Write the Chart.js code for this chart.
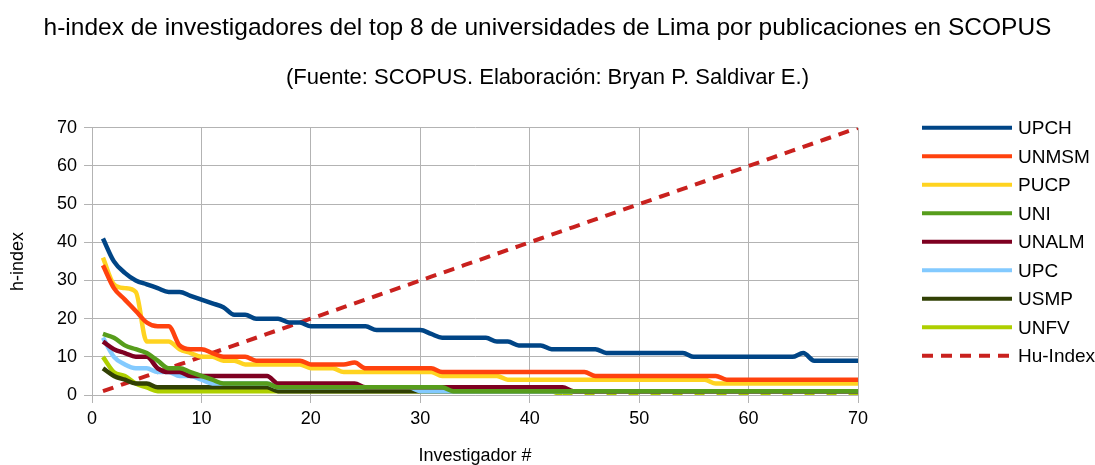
<!DOCTYPE html>
<html>
<head>
<meta charset="utf-8">
<title>h-index SCOPUS</title>
<script src="https://cdn.jsdelivr.net/npm/chart.js@4.4.1/dist/chart.umd.min.js"></script>
<style>
  body { margin: 0; background: #fff; }
  #wrap { width: 1095px; height: 465px; }
</style>
</head>
<body>
<div id="wrap"><canvas id="myChart"></canvas></div>
<script>
// investigador # (eje x)
var investigadores = [1,2,3,4,5,6,7,8,9,10,11,12,13,14,15,16,17,18,19,20,21,22,23,24,25,26,27,28,29,30,31,32,33,34,35,36,37,38,39,40,41,42,43,44,45,46,47,48,49,50,51,52,53,54,55,56,57,58,59,60,61,62,63,64,65,66,67,68,69,70];

// h-index por universidad
var UPCH  = [41,35,32,30,29,28,27,27,26,25, 24,23,21,21,20,20,20,19,19,18, 18,18,18,18,18,17,17,17,17,17, 16,15,15,15,15,15,14,14,13,13, 13,12,12,12,12,12,11,11,11,11, 11,11,11,11,10,10,10,10,10,10, 10,10,10,10,11,9,9,9,9,9];
var UNMSM = [34,28,25,22,19,18,18,13,12,12, 11,10,10,10,9,9,9,9,9,8, 8,8,8,8.5,7,7,7,7,7,7, 7,6,6,6,6,6,6,6,6,6, 6,6,6,6,6,5,5,5,5,5, 5,5,5,5,5,5,5,4,4,4, 4,4,4,4,4,4,4,4,4,4];
var PUCP  = [36,29,28,27,14,14,14,12,11,10, 10,9,9,8,8,8,8,8,8,7, 7,7,6,6,6,6,6,6,6,6, 6,5,5,5,5,5,5,4,4,4, 4,4,4,4,4,4,4,4,4,4, 4,4,4,4,4,4,3,3,3,3, 3,3,3,3,3,3,3,3,3,3];
var UNI   = [16,15,13,12,11,9,7,7,6,5, 4,3,3,3,3,3,2,2,2,2, 2,2,2,2,2,2,2,2,2,2, 2,2,1,1,1,1,1,1,1,1, 1,1,1,1,1,1,1,1,1,1, 1,1,1,1,1,1,1,1,1,1, 1,1,1,1,1,1,1,1,1,1];
var UNALM = [14,12,11,10,10,7,6,6,5,5, 5,5,5,5,5,5,3,3,3,3, 3,3,3,3,2,2,2,2,2,2, 2,2,2,2,2,2,2,2,2,2, 2,2,2,1,1,1,1,1,1,1, 1,1,1,1,1,1,1,1,1,1, 1,1,1,1,1,1,1,1,1,1];
var UPC   = [15,10,8,7,7,6,6,5,5,4, 3,3,3,3,3,3,2,2,2,2, 2,2,2,2,2,2,2,2,2,1, 1,1,1,1,1,1,1,1,1,1, 1,1,1,1,1,1,1,1,1,1, 1,1,1,1,1,1,1,1,1,1, 1,1,1,1,1,1,1,1,1,1];
var USMP  = [7,5,4,3,3,2,2,2,2,2, 2,2,2,2,2,2,1,1,1,1, 1,1,1,1,1,1,1,1,1,1, 1,1,1,1,1,1,1,1,1,1, 1,1,1,1,1,1,1,1,1,1, 1,1,1,1,1,1,1,1,1,1, 1,1,1,1,1,1,1,1,1,1];
var UNFV  = [10,6,5,3,2,1,1,1,1,1, 1,1,1,1,1,1,1,1,1,1, 1,1,1,1,1,1,1,1,1,1, 1,1,1,1,1,1,1,1,1,1, 1,1,0,0,0,0,0,0,0,0, 0,0,0,0,0,0,0,0,0,0, 0,0,0,0,0,0,0,0,0,0];
var huIndex = [1,2,3,4,5,6,7,8,9,10,11,12,13,14,15,16,17,18,19,20,21,22,23,24,25,26,27,28,29,30,31,32,33,34,35,36,37,38,39,40,41,42,43,44,45,46,47,48,49,50,51,52,53,54,55,56,57,58,59,60,61,62,63,64,65,66,67,68,69,70];

var xTicks = [0, 10, 20, 30, 40, 50, 60, 70];
var yTicks = [0, 10, 20, 30, 40, 50, 60, 70];

function puntos(serie) {
  return investigadores.map(function (x, i) { return { x: x, y: serie[i] }; });
}

function serie(label, values, color) {
  return {
    label: label,
    data: puntos(values),
    borderColor: color,
    backgroundColor: color,
    borderWidth: 4.5,
    pointRadius: 0,
    cubicInterpolationMode: 'monotone',
    fill: false
  };
}

var datasets = [
  serie('UPCH', UPCH, '#004586'),
  serie('UNMSM', UNMSM, '#ff420e'),
  serie('PUCP', PUCP, '#ffd320'),
  serie('UNI', UNI, '#579d1c'),
  serie('UNALM', UNALM, '#7e0021'),
  serie('UPC', UPC, '#83caff'),
  serie('USMP', USMP, '#314004'),
  serie('UNFV', UNFV, '#aecf00'),
  {
    label: 'Hu-Index',
    data: puntos(huIndex),
    borderColor: '#c9211e',
    backgroundColor: '#c9211e',
    borderWidth: 4,
    borderDash: [11, 8],
    pointRadius: 0,
    fill: false
  }
];
// UNFV sits on the axis at 0: drawn broken like the original
datasets[7].segment = {
  borderDash: function (ctx) {
    return (ctx.p0.parsed.y === 0 && ctx.p1.parsed.y === 0) ? [10, 12] : undefined;
  }
};

// legend on the right, lines + labels
var leyendaDerecha = {
  id: 'leyendaDerecha',
  afterDraw: function (chart) {
    var c = chart.ctx, area = chart.chartArea;
    c.save();
    chart.data.datasets.forEach(function (ds, i) {
      var y = area.top + i * 28.5;
      c.beginPath();
      c.lineWidth = 4;
      c.strokeStyle = ds.borderColor;
      c.setLineDash(ds.borderDash || []);
      c.moveTo(area.right + 64, y);
      c.lineTo(area.right + 154, y);
      c.stroke();
      c.setLineDash([]);
      c.fillStyle = '#000';
      c.font = '19px "Liberation Sans"';
      c.textBaseline = 'middle';
      c.textAlign = 'left';
      c.fillText(ds.label, area.right + 160, y + 1);
    });
    c.restore();
  }
};

Chart.defaults.font.family = '"Liberation Sans", Arial, sans-serif';
Chart.defaults.color = '#000';

var ctx = document.getElementById('myChart').getContext('2d');
new Chart(ctx, {
  type: 'line',
  data: { datasets: datasets },
  plugins: [leyendaDerecha],
  options: {
    responsive: true,
    maintainAspectRatio: false,
    animation: false,
    layout: { padding: 0 },
    plugins: {
      legend: { display: false },
      tooltip: { enabled: false },
      title: {
        display: true,
        text: 'h-index de investigadores del top 8 de universidades de Lima por publicaciones en SCOPUS',
        font: { size: 24.5, weight: 'normal' },
        color: '#000',
        padding: { top: 14, bottom: 0 }
      },
      subtitle: {
        display: true,
        text: '(Fuente: SCOPUS. Elaboración: Bryan P. Saldivar E.)',
        font: { size: 22, weight: 'normal' },
        color: '#000',
        padding: { top: 21, bottom: 37 }
      }
    },
    scales: {
      x: {
        type: 'linear',
        min: 0,
        max: 70,
        afterBuildTicks: function (scale) {
          scale.ticks = xTicks.map(function (v) { return { value: v }; });
        },
        grid: { color: '#b3b3b3', lineWidth: 1, tickLength: 8, drawTicks: true },
        border: { color: '#b3b3b3' },
        ticks: { padding: 5, color: '#000', font: { size: 18 }, maxRotation: 0 },
        title: {
          display: true,
          text: 'Investigador #',
          color: '#000',
          font: { size: 18, lineHeight: 1 },
          padding: { top: 12.4, bottom: 0 }
        }
      },
      y: {
        min: 0,
        max: 70,
        afterBuildTicks: function (scale) {
          scale.ticks = yTicks.map(function (v) { return { value: v }; });
        },
        grid: { color: '#b3b3b3', lineWidth: 1, tickLength: 8, drawTicks: true },
        border: { color: '#b3b3b3' },
        ticks: { padding: 7, color: '#000', font: { size: 18 } },
        title: {
          display: true,
          text: 'h-index',
          color: '#000',
          font: { size: 18 },
          padding: { top: 7.7, bottom: 20.7 }
        }
      },
      // empty box on the right that keeps room for the legend
      espacioLeyenda: {
        type: 'linear',
        axis: 'y',
        position: 'right',
        grid: { display: false },
        border: { display: false },
        ticks: { display: false },
        afterFit: function (scale) { scale.width = 237; }
      }
    }
  }
});
</script>
</body>
</html>
